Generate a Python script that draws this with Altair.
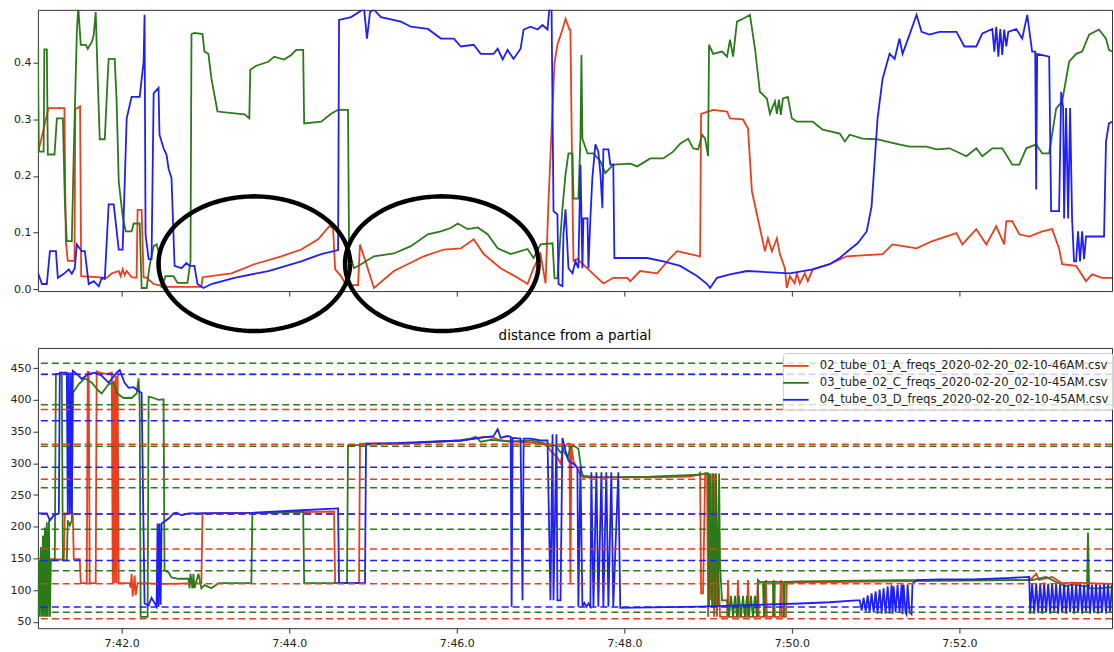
import altair as alt
import numpy as np
import pandas as pd

FILES = [
    "02_tube_01_A_freqs_2020-02-20_02-10-46AM.csv",
    "03_tube_02_C_freqs_2020-02-20_02-10-45AM.csv",
    "04_tube_03_D_freqs_2020-02-20_02-10-45AM.csv",
]
COLORS = ["#ec3d1c", "#2b7a1a", "#1f1ff8"]

# time: seconds after 7:41:00 ; value: relative distance to the nearest partial
TOP_A = [
    (0, .240), (7.6, .320), (19.0, .320), (20.0, .085), (21.4, .050), (26.2, .050), (26.8, .318),
    (30.2, .323), (31.0, .023), (49.3, .020), (52.9, .028), (57.9, .032), (59.3, .023), (60.7, .035),
    (62.1, .025), (63.6, .032), (67.1, .021), (70.7, .020), (71.4, .140), (74.3, .140), (75.7, .021),
    (77.9, .020), (82.9, .009), (92.1, .004), (117.1, .004), (117.9, .021), (138.6, .028), (155.0, .044),
    (174.3, .058), (188.6, .070), (200.7, .088), (208.6, .111), (211.4, .108), (212.9, .035),
    (217.1, .023), (220.7, .007), (229.3, .007), (230.7, .079), (235.0, .046), (240.7, .002),
    (255.0, .032), (276.4, .058), (290.7, .070), (302.9, .072), (312.1, .088), (319.3, .062),
    (331.4, .037), (343.6, .020), (350.7, .009), (355.0, .037), (360.0, .062), (363.6, .010),
    (365.7, .155), (370.0, .400), (372.1, .432), (375.7, .459), (377.9, .478), (380.7, .459),
    (381.4, .459), (382.9, .155), (383.6, .050), (386.4, .053), (400.7, .020), (405.0, .010),
    (412.1, .020), (422.1, .020), (424.3, .014), (431.4, .032), (443.6, .028), (452.9, .055),
    (457.9, .067), (467.1, .062), (474.3, .058), (475.0, .310), (483.6, .317), (493.6, .314),
    (495.7, .302), (505.0, .300), (508.6, .284), (511.4, .173), (517.1, .108), (520.7, .067),
    (522.9, .090), (525.7, .067), (529.3, .090), (531.4, .062), (535.0, .037), (536.4, .002),
    (538.6, .023), (542.0, .010), (543.6, .028), (545.7, .010), (549.3, .028), (551.4, .014),
    (555.0, .035), (567.1, .044), (579.3, .058), (605.0, .062), (612.1, .079), (629.3, .072),
    (640.7, .085), (657.9, .099), (662.1, .079), (672.1, .106), (679.3, .079), (686.4, .111),
    (692.1, .079), (693.6, .120), (697.9, .120), (702.9, .097), (710.0, .093), (719.3, .102),
    (726.4, .106), (731.4, .072), (733.6, .044), (743.6, .041), (750.7, .014), (755.0, .026),
    (762.1, .020), (769.3, .020),
]
TOP_C = [
    (0, .426), (0.7, .243), (4.1, .243), (4.6, .424), (6.4, .424), (7.1, .238), (11.9, .238),
    (13.6, .302), (17.9, .302), (19.3, .155), (20.7, .085), (24.3, .085), (25.7, .243), (27.9, .455),
    (28.9, .499), (30.7, .432), (34.3, .432), (35.7, .425), (38.6, .437), (40.0, .450), (41.4, .490),
    (42.9, .367), (44.3, .265), (47.9, .265), (50.0, .376), (50.7, .407), (55.0, .407), (56.4, .332),
    (57.9, .190), (60.7, .129), (62.9, .102), (67.1, .102), (68.6, .116), (72.9, .116), (74.3, .002),
    (77.9, .002), (80.0, .041), (82.9, .076), (85.0, .079), (86.4, .067), (88.6, .002), (91.4, .023),
    (97.1, .023), (100.0, .011), (107.1, .011), (109.3, .049), (110.0, .451), (112.1, .453),
    (117.9, .451), (119.3, .420), (122.1, .416), (124.3, .372), (126.4, .344), (128.6, .314),
    (147.9, .309), (151.4, .302), (152.1, .388), (156.4, .395), (165.0, .402), (169.3, .411),
    (176.4, .406), (181.4, .414), (185.0, .423), (190.0, .423), (190.7, .293), (202.9, .296),
    (210.0, .310), (215.0, .317), (222.1, .317), (222.9, .067), (226.4, .037), (231.4, .044),
    (240.7, .058), (255.0, .063), (267.1, .076), (279.3, .097), (288.6, .102), (295.7, .108),
    (300.7, .116), (307.9, .106), (315.0, .109), (322.1, .097), (329.3, .072), (338.6, .062),
    (345.7, .067), (350.7, .071), (355.0, .055), (360.0, .079), (368.6, .081), (370.0, .019),
    (372.1, .019), (375.7, .143), (377.9, .203), (380.0, .240), (382.9, .240), (383.6, .160),
    (387.1, .160), (388.6, .266), (389.3, .414), (390.0, .266), (393.6, .240), (397.9, .240),
    (402.9, .226), (406.4, .205), (412.1, .220), (424.3, .222), (429.3, .217), (438.6, .231),
    (447.9, .231), (455.0, .243), (460.0, .257), (465.7, .266), (469.3, .249), (472.9, .247),
    (475.7, .273), (477.9, .266), (480.0, .235), (480.7, .432), (483.6, .416), (490.0, .420),
    (493.6, .411), (495.7, .441), (497.9, .411), (500.7, .473), (505.0, .478), (510.0, .485),
    (513.6, .425), (517.1, .349), (522.1, .337), (524.3, .310), (527.9, .332), (529.3, .310),
    (530.7, .335), (532.1, .308), (533.6, .337), (537.1, .340), (540.0, .302), (543.6, .296),
    (555.0, .296), (562.1, .282), (574.3, .275), (577.9, .261), (581.4, .273), (590.7, .266),
    (600.7, .265), (615.0, .257), (624.3, .252), (636.4, .252), (643.6, .247), (652.9, .249),
    (665.0, .235), (672.1, .249), (676.4, .235), (683.6, .249), (690.7, .249), (697.9, .220),
    (702.9, .220), (707.9, .249), (715.0, .256), (719.3, .240), (724.3, .240), (729.3, .319),
    (733.6, .332), (738.6, .402), (743.6, .416), (747.9, .420), (752.9, .450), (760.0, .459),
    (765.0, .443), (767.1, .423), (769.3, .420),
]
TOP_D = [
    (0, .029), (2.9, .009), (6.4, .009), (8.6, .067), (12.9, .067), (14.3, .020), (18.6, .027),
    (22.1, .035), (24.3, .027), (26.4, .037), (27.9, .079), (31.4, .067), (33.6, .067), (36.4, .009),
    (40.0, .014), (43.6, .005), (45.7, .020), (47.9, .018), (50.7, .150), (54.3, .150), (57.9, .070),
    (60.7, .070), (63.6, .302), (67.1, .340), (72.9, .340), (75.7, .402), (76.4, .485), (77.1, .097),
    (79.3, .053), (81.4, .053), (82.9, .346), (86.4, .356), (87.1, .273), (90.0, .249), (92.1, .238),
    (93.6, .213), (95.7, .196), (97.9, .041), (102.9, .037), (106.4, .046), (108.6, .041),
    (112.1, .041), (114.3, .009), (118.6, .002), (124.3, .009), (140.7, .020), (165.0, .032),
    (188.6, .049), (202.9, .062), (215.0, .069), (215.7, .476), (224.3, .481), (231.4, .492),
    (233.6, .496), (235.7, .443), (237.9, .490), (240.7, .494), (245.7, .481), (260.0, .473),
    (267.1, .464), (279.3, .460), (288.6, .443), (297.9, .443), (302.9, .429), (312.1, .432),
    (317.1, .416), (326.4, .416), (329.3, .425), (332.9, .406), (336.4, .423), (340.7, .407),
    (345.7, .425), (347.9, .459), (352.9, .464), (357.9, .459), (361.4, .467), (365.0, .459),
    (366.4, .499), (367.9, .494), (369.3, .138), (372.1, .132), (372.9, .009), (375.7, .005),
    (376.4, .097), (377.9, .141), (380.0, .037), (382.9, .028), (385.0, .049), (387.1, .037),
    (388.6, .220), (390.0, .037), (390.7, .125), (393.6, .125), (394.3, .037), (395.7, .125),
    (397.1, .196), (399.3, .256), (401.4, .243), (402.9, .203), (404.3, .143), (405.0, .247),
    (408.6, .247), (410.0, .220), (412.1, .220), (412.9, .055), (436.4, .055), (447.9, .049),
    (460.0, .041), (472.1, .023), (479.3, .009), (481.4, .002), (486.4, .020), (495.7, .026),
    (507.9, .032), (538.6, .028), (555.0, .035), (567.1, .044), (574.3, .055), (581.4, .070),
    (587.1, .081), (593.6, .102), (597.1, .146), (599.3, .226), (601.4, .302), (605.0, .372),
    (610.0, .416), (613.6, .407), (617.1, .443), (619.3, .416), (624.3, .450), (629.3, .485),
    (632.9, .455), (638.6, .450), (645.7, .455), (657.9, .455), (663.6, .429), (672.1, .429),
    (676.4, .452), (683.6, .460), (685.0, .420), (686.4, .464), (687.9, .411), (689.3, .460),
    (690.7, .414), (692.1, .459), (693.6, .429), (695.0, .455), (700.7, .460), (705.0, .443),
    (708.6, .485), (712.1, .420), (714.3, .420), (715.0, .176), (715.7, .416), (724.3, .411),
    (725.7, .138), (731.4, .138), (732.9, .349), (734.3, .320), (735.0, .125), (736.4, .320),
    (737.9, .125), (739.3, .320), (740.7, .125), (742.1, .049), (743.6, .049), (745.0, .102),
    (746.4, .049), (747.9, .102), (749.3, .053), (750.7, .093), (763.6, .093), (765.0, .261),
    (767.1, .293), (769.3, .296),
]

# time: seconds after 7:41:00 ; value: frequency in Hz
BOT_A = [
    (0, 150), (18.6, 148), (19.3, 221), (25.0, 221), (25.7, 149), (30.0, 149), (30.7, 111),
    (35.0, 111), (35.7, 444), (36.4, 444), (37.1, 111), (41.4, 111), (42.1, 445), (45.7, 442),
    (49.3, 441), (52.9, 443), (53.6, 111), (54.3, 430), (55.0, 111), (55.7, 438), (56.4, 111),
    (57.1, 443), (57.9, 111), (65.7, 111), (66.4, 104), (67.1, 126), (67.9, 90), (69.3, 123),
    (70.0, 92), (71.4, 111), (90.7, 110), (117.1, 111), (117.9, 221), (160.0, 222), (212.1, 224),
    (212.9, 111), (230.0, 111), (230.7, 331), (260.0, 331), (302.9, 336), (315.0, 340),
    (319.3, 342), (326.4, 340), (331.4, 336), (345.7, 334), (360.0, 331), (365.0, 328),
    (367.1, 320), (372.1, 309), (374.3, 300), (376.4, 323), (379.3, 331), (380.7, 331),
    (381.4, 111), (382.1, 328), (383.6, 303), (386.4, 292), (388.6, 281), (402.9, 278),
    (438.6, 278), (467.1, 279), (472.9, 282), (474.3, 285), (475.0, 95), (476.4, 95), (477.9, 284),
    (479.3, 284), (480.0, 58), (480.7, 284), (482.1, 84), (482.9, 284), (484.3, 58), (485.0, 284),
    (486.4, 58), (487.1, 147), (488.6, 58), (493.6, 58), (494.3, 116), (495.0, 58), (500.7, 58),
    (501.4, 116), (502.1, 58), (507.9, 58), (508.6, 116), (509.3, 58), (515.0, 58), (515.7, 116),
    (516.4, 58), (520.7, 58), (521.4, 116), (522.1, 58), (526.4, 58), (527.1, 116), (527.9, 58),
    (531.4, 58), (532.1, 116), (532.9, 58), (535.7, 58), (536.4, 112), (617.1, 114), (707.9, 116),
    (712.1, 119), (715.0, 126), (717.1, 116), (726.4, 121), (733.6, 111), (740.7, 112),
    (769.3, 110),
]
BOT_C = [
    (0, 58), (0.7, 147), (1.4, 58), (2.1, 168), (2.9, 58), (3.6, 186), (4.3, 58), (5.0, 199),
    (5.7, 58), (6.4, 207), (7.1, 58), (7.9, 210), (8.6, 58), (9.3, 147), (12.1, 147), (12.9, 441),
    (17.1, 441), (17.9, 147), (20.7, 147), (21.4, 210), (22.9, 202), (24.3, 210), (25.0, 411),
    (29.3, 425), (33.6, 434), (38.6, 427), (43.6, 414), (45.7, 410), (50.7, 425), (54.3, 427),
    (56.4, 411), (61.4, 403), (67.1, 403), (70.7, 410), (72.1, 434), (72.9, 396), (73.6, 58),
    (78.6, 58), (79.3, 405), (82.9, 403), (86.4, 400), (90.0, 401), (90.7, 131), (93.6, 128),
    (95.7, 120), (100.7, 118), (107.9, 118), (108.6, 103), (109.3, 126), (110.7, 103),
    (111.4, 126), (112.1, 103), (115.0, 126), (117.1, 103), (119.3, 108), (124.3, 103),
    (129.3, 111), (152.9, 111), (153.6, 221), (190.0, 224), (190.7, 111), (221.4, 111),
    (222.1, 328), (231.4, 329), (260.0, 331), (302.9, 336), (310.0, 339), (313.6, 342),
    (317.1, 334), (324.3, 337), (331.4, 336), (338.6, 334), (352.9, 336), (363.6, 331),
    (370.7, 328), (374.3, 317), (376.4, 320), (379.3, 309), (381.4, 324), (383.6, 328),
    (387.1, 323), (389.3, 288), (390.7, 278), (402.9, 278), (438.6, 279), (474.3, 282),
    (477.9, 284), (480.0, 284), (480.7, 74), (481.4, 284), (482.9, 74), (483.6, 284), (485.0, 74),
    (485.7, 284), (487.1, 74), (487.9, 284), (488.6, 136), (490.0, 84), (493.6, 84), (495.0, 58),
    (496.4, 91), (497.9, 58), (499.3, 91), (500.7, 58), (502.1, 91), (503.6, 58), (505.0, 91),
    (506.4, 58), (507.9, 91), (509.3, 58), (510.7, 91), (512.1, 58), (513.6, 91), (515.0, 58),
    (515.7, 116), (517.1, 113), (519.3, 113), (520.0, 58), (520.7, 113), (526.4, 113), (527.1, 58),
    (527.9, 113), (533.6, 113), (534.3, 58), (535.0, 113), (545.7, 114), (617.1, 116),
    (707.9, 116), (712.1, 116), (722.1, 121), (729.3, 113), (735.7, 106), (740.7, 109),
    (750.7, 106), (751.4, 106), (752.1, 191), (752.9, 103), (760.0, 103), (769.3, 105),
]
BOT_D = [
    (0, 221), (6.4, 221), (8.6, 210), (11.4, 218), (15.0, 221), (15.7, 443), (20.7, 443),
    (21.4, 221), (22.1, 443), (22.9, 221), (23.6, 443), (24.3, 221), (25.0, 446), (27.9, 441),
    (31.4, 433), (36.4, 441), (40.7, 443), (45.7, 438), (50.7, 427), (56.4, 443), (58.6, 447),
    (62.1, 427), (65.0, 419), (68.6, 420), (72.1, 414), (74.3, 411), (76.4, 79), (79.3, 76),
    (81.4, 88), (85.0, 74), (85.7, 205), (86.4, 74), (87.1, 205), (87.9, 77), (88.6, 205),
    (93.6, 213), (97.1, 221), (99.3, 222), (102.9, 218), (107.9, 221), (152.9, 222), (188.6, 226),
    (215.0, 229), (215.7, 111), (234.3, 111), (235.0, 331), (255.0, 332), (302.9, 336),
    (317.1, 340), (326.4, 343), (329.3, 354), (331.4, 340), (336.4, 343), (338.6, 342),
    (339.3, 74), (340.0, 340), (345.7, 339), (347.1, 84), (347.9, 339), (352.9, 339), (360.0, 336),
    (365.0, 336), (367.1, 84), (368.6, 346), (369.3, 84), (371.4, 346), (372.1, 84), (374.3, 84),
    (375.7, 340), (377.9, 320), (380.0, 304), (383.6, 299), (386.4, 293), (387.1, 74), (388.6, 293),
    (390.0, 74), (391.4, 80), (392.9, 74), (394.3, 79), (395.7, 74), (396.4, 286), (397.9, 74),
    (400.0, 286), (401.4, 74), (403.6, 286), (405.0, 74), (407.1, 286), (408.6, 74), (410.7, 286),
    (412.1, 74), (415.7, 286), (417.1, 72), (474.3, 74), (502.9, 76), (545.7, 79), (567.1, 81),
    (586.4, 84), (588.6, 84), (590.0, 68), (591.4, 88), (592.9, 67), (594.3, 92), (595.7, 65),
    (597.1, 95), (598.6, 65), (600.0, 98), (601.4, 63), (602.9, 101), (604.3, 63), (605.7, 103),
    (607.1, 63), (608.6, 106), (610.0, 63), (611.4, 108), (612.1, 63), (612.9, 106), (614.3, 65),
    (615.7, 108), (617.1, 65), (618.6, 109), (619.3, 62), (620.0, 109), (621.4, 65), (622.1, 62),
    (622.9, 109), (624.3, 65), (625.7, 62), (626.4, 110), (629.3, 116), (645.7, 117), (669.3, 117),
    (693.6, 119), (710.0, 121), (710.7, 63), (712.1, 110), (713.6, 63), (715.0, 111), (716.4, 64),
    (717.9, 110), (719.3, 63), (720.7, 112), (722.1, 65), (723.6, 110), (725.0, 63), (726.4, 111),
    (727.9, 66), (729.3, 110), (730.7, 63), (732.1, 109), (733.6, 64), (735.0, 110), (736.4, 63),
    (737.9, 108), (739.3, 65), (740.7, 110), (742.1, 63), (743.6, 109), (745.0, 64), (746.4, 110),
    (747.9, 63), (749.3, 108), (750.7, 66), (752.1, 110), (753.6, 63), (755.0, 109), (756.4, 64),
    (757.9, 110), (759.3, 63), (760.7, 108), (762.1, 64), (763.6, 110), (765.0, 63), (766.4, 109),
    (767.9, 64), (769.3, 108),
]

# partial frequencies (Hz) of each tube
PARTIALS_A = [55.0, 110.0, 165.0, 220.0, 275.0, 330.0, 385.0, 440.0]
PARTIALS_C = [65.4, 130.8, 196.2, 261.6, 327.0, 392.4, 457.8]
PARTIALS_D = [73.4, 146.8, 220.2, 293.7, 367.1, 440.5]

# highlighted regions: centre time (s), centre value, half-width (s), half-height
HIGHLIGHTS = [(155.0, 0.045, 68.6, 0.119), (289.3, 0.045, 69.3, 0.119)]

T_DOMAIN = [0, 769.3]
TICKS = [60, 180, 300, 420, 540, 660]
TOP_TICKS = [0, 0.1, 0.2, 0.3, 0.4]
BOT_TICKS = [50, 100, 150, 200, 250, 300, 350, 400, 450]
LABEL_EXPR = ("floor((461 + datum.value / 60) / 60) + ':' + "
              "format((461 + datum.value / 60) % 60, '.1f')")


def to_frame(groups):
    rows = []
    for name, pts in zip(FILES, groups):
        for i, (t, v) in enumerate(pts):
            rows.append({"t": t, "v": v, "file": name, "i": i})
    return pd.DataFrame(rows)


top_df = to_frame([TOP_A, TOP_C, TOP_D])
bot_df = to_frame([BOT_A, BOT_C, BOT_D])

rule_rows = []
for hz_list, col in zip([PARTIALS_A, PARTIALS_C, PARTIALS_D], COLORS):
    for hz in hz_list:
        rule_rows.append({"v": hz, "col": col})
rule_df = pd.DataFrame(rule_rows)

ell_rows = []
ang = np.linspace(0, 2 * np.pi, 145)
for k, (cx, cy, rx, ry) in enumerate(HIGHLIGHTS):
    for i, a in enumerate(ang):
        ell_rows.append({"t": cx + rx * np.cos(a), "v": cy + ry * np.sin(a), "k": k, "i": i})
ell_df = pd.DataFrame(ell_rows)

color_scale = alt.Scale(domain=FILES, range=COLORS)
x_scale = alt.Scale(domain=T_DOMAIN, nice=False, zero=False)


def series_layers(df, y_enc, x_axis, legend):
    layers = []
    for name in FILES:
        layers.append(
            alt.Chart(df)
            .transform_filter(alt.datum.file == name)
            .mark_line(strokeWidth=1.8, clip=True)
            .encode(
                x=alt.X("t:Q", scale=x_scale, axis=x_axis),
                y=y_enc,
                color=alt.Color("file:N", scale=color_scale, legend=legend),
                order=alt.Order("i:Q"),
            )
        )
    return layers


top_x_axis = alt.Axis(values=TICKS, labels=False, title=None)
top_y = alt.Y(
    "v:Q",
    scale=alt.Scale(domain=[-0.0035, 0.4938], nice=False, zero=False),
    axis=alt.Axis(values=TOP_TICKS, format=".1f", title=None, labelOverlap=False),
)
ellipses = (
    alt.Chart(ell_df)
    .mark_line(color="black", strokeWidth=4.5, clip=False)
    .encode(x=alt.X("t:Q", scale=x_scale, axis=top_x_axis), y=top_y, detail="k:N",
            order="i:Q")
)
top = alt.layer(*series_layers(top_df, top_y, top_x_axis, None), ellipses).properties(
    width=1077, height=282
)

legend = alt.Legend(
    title=None, orient="none", legendX=747, legendY=5,
    fillColor="rgba(255,255,255,0.8)", strokeColor="#cccccc", cornerRadius=3, padding=4,
    symbolType="M-1.6,0L1.6,0", symbolSize=256, symbolStrokeWidth=1.8,
    symbolFillColor="transparent", labelOffset=15,
    labelFont="DejaVu Sans", labelFontSize=11.6, labelColor="#222222", labelLimit=500,
    rowPadding=2,
)
bot_x_axis = alt.Axis(values=TICKS, labelExpr=LABEL_EXPR, title=None, labelPadding=4)
bot_y = alt.Y(
    "v:Q",
    scale=alt.Scale(domain=[40.1, 481.9], nice=False, zero=False),
    axis=alt.Axis(values=BOT_TICKS, title=None, labelOverlap=False),
)
rules = (
    alt.Chart(rule_df)
    .mark_rule(strokeDash=[7, 4], strokeWidth=1.5)
    .encode(y=bot_y, color=alt.Color("col:N", scale=None))
)
bottom = alt.layer(*series_layers(bot_df, bot_y, bot_x_axis, legend), rules).properties(
    width=1077,
    height=281,
    title=alt.TitleParams(
        "distance from a partial", font="DejaVu Sans", fontSize=13.5, fontWeight="normal",
        color="black", baseline="alphabetic", offset=-6,
    ),
)

chart = (
    alt.vconcat(top, bottom, spacing=57, bounds="flush")
    .resolve_scale(color="independent", y="independent")
    .properties(padding={"left": 9, "top": 8, "right": 0, "bottom": 0})
    .configure_view(stroke="#333333", strokeWidth=1)
    .configure_axis(
        labelFont="DejaVu Sans", labelFontSize=11, labelColor="#222222", tickColor="#333333",
        tickSize=5, labelPadding=2, domain=False, grid=False, labelOverlap=False,
    )
)

chart.save("out.html", embed_options={"renderer": "svg", "actions": False})
